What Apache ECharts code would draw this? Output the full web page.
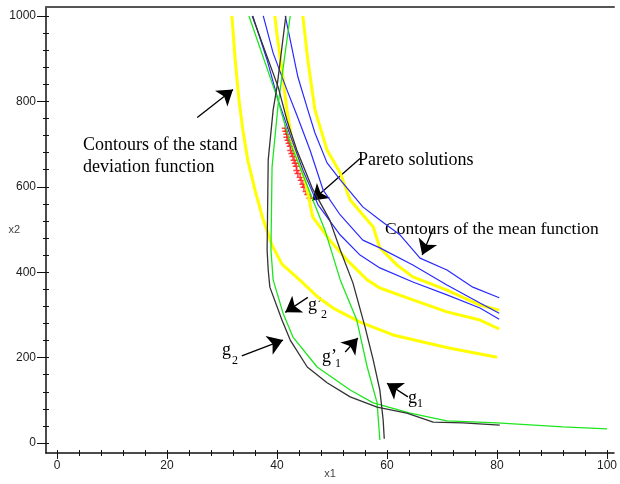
<!DOCTYPE html>
<html>
<head>
<meta charset="utf-8">
<script src="https://cdn.jsdelivr.net/npm/echarts@6/dist/echarts.min.js"></script>
<style>
html, body { margin: 0; padding: 0; background: #fff; }
#chart { width: 620px; height: 484px; }
</style>
</head>
<body>
<div id="chart"></div>
<script>
// tick values
const xMajor = [0, 20, 40, 60, 80, 100];
const xMinor = [0, 4, 8, 12, 16, 20, 24, 28, 32, 36, 40, 44, 48, 52, 56, 60, 64, 68, 72, 76, 80, 84, 88, 92, 96, 100];
const yMajor = [0, 200, 400, 600, 800, 1000];
const yMinor = [0, 40, 80, 120, 160, 200, 240, 280, 320, 360, 400, 440, 480, 520, 560, 600, 640, 680, 720, 760, 800, 840, 880, 920, 960, 1000];

// contours of the stand deviation function (yellow)
const stdA = [[31.8, 1000], [32.4, 896], [33.1, 802], [33.8, 732], [34.7, 662], [36.0, 592], [37.5, 522], [39.1, 463], [40.9, 419], [44.2, 381], [47.5, 341], [50.2, 316], [55.1, 283], [61.1, 253], [67.3, 234], [71.5, 222], [80, 201]];
const stdB = [[39.6, 1000], [40.2, 937], [40.9, 874], [41.8, 780], [42.7, 710], [45.1, 616], [46.5, 529], [49.6, 475], [52.7, 429], [56.4, 382], [58.7, 363], [64.7, 335], [70.9, 307], [76.9, 288], [80.4, 267]];
const stdC = [[44.7, 1000], [45.6, 897], [46.9, 780], [49.1, 686], [51.5, 632], [53.3, 569], [57.5, 506], [58.7, 457], [61.8, 417], [64.7, 389], [70.9, 358], [76.9, 323], [80.4, 311]];

// contours of the mean function (blue)
const meanA = [[41.5, 1000], [43.8, 857], [45.6, 780], [46.9, 726], [49.1, 656], [51.5, 616], [55.6, 553], [58.7, 522], [62.4, 487], [66.0, 433], [70.9, 405], [75.6, 365], [80.4, 340]];
const meanB = [[37.5, 1000], [39.3, 913], [41.8, 827], [43.6, 768], [46.0, 686], [48.4, 592], [51.5, 534], [55.6, 475], [58.7, 457], [64.7, 417], [70.9, 370], [76.9, 328], [80.4, 304]];
const meanC = [[35.6, 1000], [38.2, 897], [40.2, 803], [42.4, 721], [44.7, 639], [47.5, 557], [51.5, 487], [55.1, 440], [58.7, 410], [64.7, 377], [70.9, 347], [76.9, 316], [80.4, 290]];

// constraints g1, g2 (black) and g'1, g'2 (green)
const g1 = [[35.5, 1000], [40.2, 834], [41.8, 756], [43.6, 686], [46.4, 597], [49.6, 522], [51.5, 452], [53.8, 375], [56.0, 272], [57.5, 194], [58.7, 124], [59.3, 54], [59.5, 10]];
const g2 = [[41.6, 1000], [40.0, 834], [39.3, 780], [38.4, 663], [38.2, 452], [38.4, 405], [38.7, 365], [40.9, 288], [42.4, 241], [45.5, 178], [49.1, 141], [53.3, 108], [58.2, 84], [63.6, 70], [68.4, 49], [73.8, 47], [80.5, 42]];
const g1p = [[34.9, 1000], [40.0, 810], [42.4, 703], [46.0, 586], [48.7, 499], [51.5, 382], [54.5, 288], [56.4, 178], [58.2, 94], [58.7, 7]];
const g2p = [[42.4, 1000], [40.2, 792], [39.1, 646], [38.9, 452], [39.3, 382], [41.1, 304], [42.9, 248], [47.3, 178], [53.3, 124], [57.5, 94], [64.2, 70], [70.9, 52], [80, 47], [92, 38], [100, 33]];

// pareto solutions (red)
const pareto = [[41.5, 737], [41.6, 730], [41.8, 723], [41.8, 716], [42.0, 709], [42.2, 702], [42.4, 695], [42.5, 685], [42.7, 678], [42.9, 671], [43.1, 662], [43.3, 655], [43.5, 648], [43.6, 638], [43.8, 631], [44.2, 622], [44.4, 615], [44.7, 606], [44.9, 599], [45.3, 589], [45.6, 582], [46.0, 573]];

// annotation arrows [tail, head]
const arrows = [
    [[25.5, 762], [32.0, 828]],
    [[55.1, 666], [46.4, 568]],
    [[68.4, 503], [66.4, 440]],
    [[45.6, 341], [41.5, 306]],
    [[33.6, 204], [41.1, 241]],
    [[52.4, 213], [54.7, 246]],
    [[63.8, 108], [60.0, 140]]
];

const serif = '"Liberation Serif", "Times New Roman", serif';
const sans = '"Liberation Sans", Arial, sans-serif';

function curve(data, color, width) {
    return {
        type: 'line',
        data: data,
        showSymbol: false,
        symbol: 'none',
        lineStyle: { color: color, width: width },
        silent: true
    };
}

function txt(x, y, s, size, va) {
    return {
        type: 'text',
        left: x,
        top: y,
        style: { text: s, fill: '#000', font: size + 'px ' + serif, textVerticalAlign: va || 'top' }
    };
}

const plain = v => String(v);
const xRange = { min: -2, max: 101.27 };
const yRange = { min: -23.4, max: 1021 };

const chart = echarts.init(document.getElementById('chart'));
chart.setOption({
    animation: false,
    backgroundColor: '#fff',
    grid: { left: 46, right: 6, top: 7, bottom: 31, containLabel: false, outerBoundsMode: 'none' },
    xAxis: [
        {
            type: 'value', ...xRange, position: 'bottom',
            axisLine: { onZero: false, lineStyle: { color: '#111', width: 1.5 } },
            axisTick: { customValues: xMinor, length: 3, lineStyle: { color: '#111' } },
            axisLabel: { customValues: xMajor, formatter: plain, color: '#222', fontSize: 12, fontFamily: sans, margin: 7 },
            splitLine: { show: false },
            name: 'x1', nameLocation: 'middle', nameGap: 15, nameMoveOverlap: false,
            nameTextStyle: { color: '#444', fontSize: 11, fontFamily: sans }
        },
        {
            type: 'value', ...xRange, position: 'bottom',
            axisLine: { show: false, onZero: false },
            axisTick: { customValues: xMinor, inside: true, length: 3, lineStyle: { color: '#111' } },
            axisLabel: { show: false },
            splitLine: { show: false }
        },
        {
            type: 'value', ...xRange, position: 'bottom',
            axisLine: { show: false, onZero: false },
            axisTick: { customValues: xMajor, length: 6, lineStyle: { color: '#111' } },
            axisLabel: { show: false },
            splitLine: { show: false }
        },
        {
            type: 'value', ...xRange, position: 'top',
            axisLine: { onZero: false, lineStyle: { color: '#555', width: 2 } },
            axisTick: { show: false },
            axisLabel: { show: false },
            splitLine: { show: false }
        }
    ],
    yAxis: [
        {
            type: 'value', ...yRange, position: 'left',
            axisLine: { onZero: false, lineStyle: { color: '#111', width: 1.5 } },
            axisTick: { customValues: yMinor, length: 3, lineStyle: { color: '#111' } },
            axisLabel: { customValues: yMajor, formatter: plain, color: '#222', fontSize: 12, fontFamily: sans, margin: 10 },
            splitLine: { show: false },
            name: 'x2', nameLocation: 'middle', nameGap: 26, nameRotate: 0, nameMoveOverlap: false,
            nameTextStyle: { color: '#444', fontSize: 11, fontFamily: sans }
        },
        {
            type: 'value', ...yRange, position: 'left',
            axisLine: { show: false, onZero: false },
            axisTick: { customValues: yMinor, inside: true, length: 3, lineStyle: { color: '#111' } },
            axisLabel: { show: false },
            splitLine: { show: false }
        },
        {
            type: 'value', ...yRange, position: 'left',
            axisLine: { show: false, onZero: false },
            axisTick: { customValues: yMajor, length: 9, lineStyle: { color: '#111' } },
            axisLabel: { show: false },
            splitLine: { show: false }
        }
    ],
    series: [
        curve(stdA, '#ffff00', 3),
        curve(stdB, '#ffff00', 3),
        curve(stdC, '#ffff00', 3),
        curve(meanA, '#2a2aff', 1.2),
        curve(meanB, '#2a2aff', 1.2),
        curve(meanC, '#2a2aff', 1.2),
        curve(g1p, '#1ee61e', 1.3),
        curve(g2p, '#1ee61e', 1.3),
        curve(g1, '#333333', 1.3),
        curve(g2, '#333333', 1.3),
        {
            type: 'scatter',
            data: pareto,
            symbol: 'path://M4,0h2v4h4v2h-4v4h-2v-4h-4v-2h4z',
            symbolSize: 7,
            itemStyle: { color: '#ff1010' },
            silent: true
        },
        {
            type: 'lines',
            coordinateSystem: 'cartesian2d',
            data: arrows.map(a => ({ coords: a })),
            symbol: ['none', 'arrow'],
            symbolSize: [11, 15],
            lineStyle: { color: '#000', width: 1.3, opacity: 1 },
            silent: true
        }
    ],
    graphic: [
        txt(83, 136, 'Contours of the stand', 18, 'middle'),
        txt(83, 158, 'deviation function', 18, 'middle'),
        txt(358, 151, 'Pareto solutions', 18, 'middle'),
        txt(385, 220, 'Contours of the mean function', 17.5, 'middle'),
        txt(308, 296, 'g’', 18), txt(321, 309, '2', 12),
        txt(222, 341, 'g', 18), txt(232, 355, '2', 12),
        txt(322, 348, 'g’', 18), txt(335, 358, '1', 12),
        txt(408, 389, 'g', 18), txt(417, 398, '1', 12)
    ]
});
</script>
</body>
</html>
